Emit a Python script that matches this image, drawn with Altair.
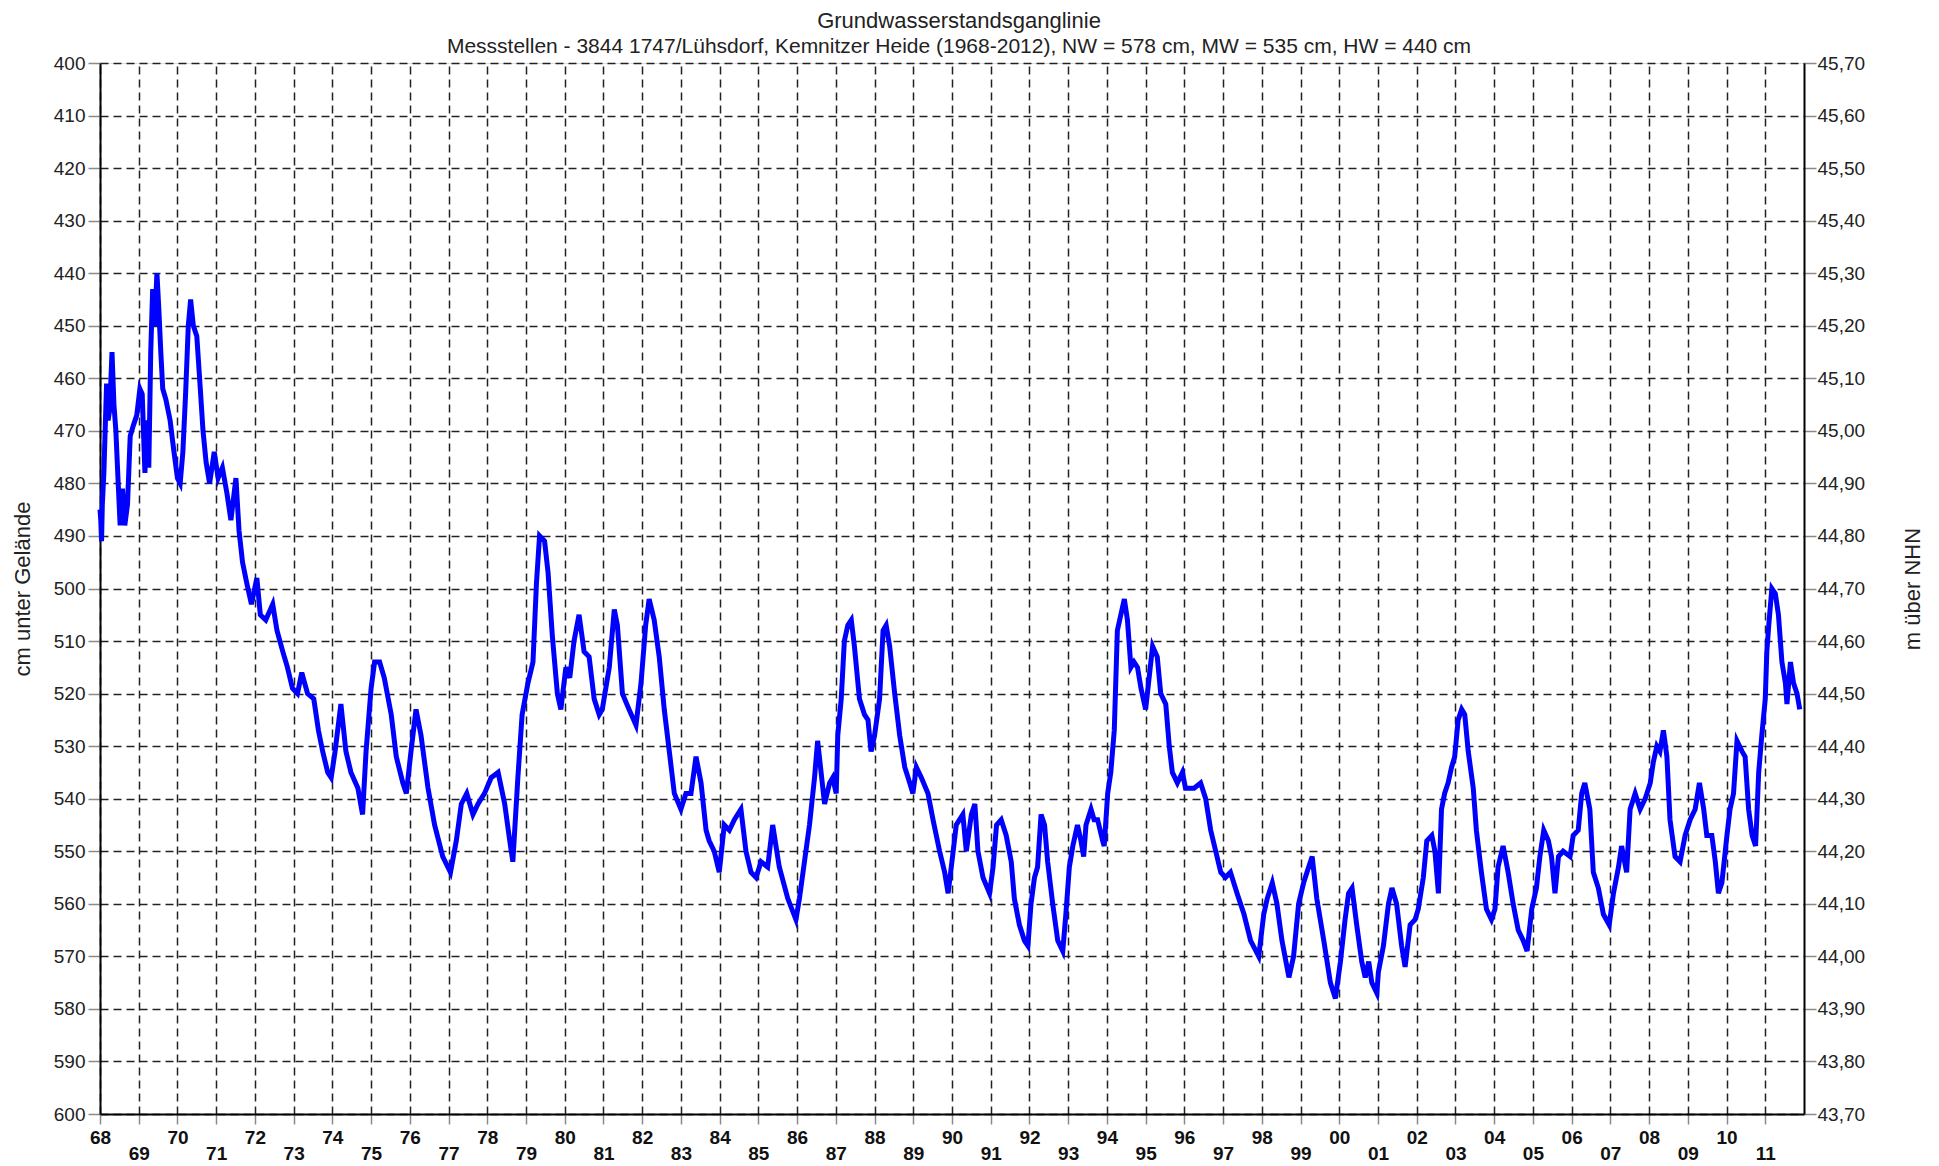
import altair as alt
import pandas as pd

TITLE = "Grundwasserstandsganglinie"
SUBTITLE = ("Messstellen - 3844 1747/Lühsdorf, Kemnitzer Heide (1968-2012), "
            "NW = 578 cm, MW = 535 cm, HW = 440 cm")
LEFT_TITLE = "cm unter  Gelände"
RIGHT_TITLE = "m über  NHN"
YEAR_TICKS = list(range(1968, 2012))
CM_TICKS = list(range(400, 601, 10))

# 1968 - 1979
years_a = [1968.00, 1968.02, 1968.04, 1968.06, 1968.10, 1968.17, 1968.21, 1968.25, 1968.31, 1968.36,
           1968.41, 1968.47, 1968.52, 1968.58, 1968.64, 1968.71, 1968.78, 1968.86, 1968.95, 1969.03,
           1969.09, 1969.16, 1969.21, 1969.26, 1969.31, 1969.36, 1969.41, 1969.47, 1969.52, 1969.57,
           1969.62, 1969.70, 1969.81, 1969.91, 1970.00, 1970.07, 1970.14, 1970.21, 1970.28, 1970.34,
           1970.41, 1970.50, 1970.59, 1970.66, 1970.74, 1970.83, 1970.95, 1971.05, 1971.16, 1971.28,
           1971.38, 1971.51, 1971.59, 1971.68, 1971.79, 1971.91, 1972.05, 1972.14, 1972.28, 1972.46,
           1972.57, 1972.72, 1972.84, 1972.97, 1973.10, 1973.21, 1973.36, 1973.52, 1973.64, 1973.75,
           1973.88, 1973.97, 1974.07, 1974.22, 1974.35, 1974.48, 1974.66, 1974.78, 1974.87, 1975.00,
           1975.09, 1975.22, 1975.34, 1975.52, 1975.65, 1975.82, 1975.91, 1976.03, 1976.16, 1976.29,
           1976.47, 1976.64, 1976.85, 1977.05, 1977.20, 1977.33, 1977.47, 1977.63, 1977.76, 1977.93,
           1978.10, 1978.28, 1978.45, 1978.58, 1978.66, 1978.79, 1978.90, 1979.05, 1979.18, 1979.27,
           1979.35, 1979.48, 1979.57]
levels_a = [485, 487, 491, 484, 478, 461, 468, 466, 455, 465,
            470, 480, 488, 481, 488, 484, 471, 469, 467, 462,
            463, 478, 468, 477, 455, 443, 450, 440, 447, 455,
            462, 464, 468, 474, 479, 480, 474, 463, 450, 445,
            450, 452, 462, 470, 476, 480, 474, 479, 477, 482,
            487, 479, 489, 495, 499, 503, 498, 505, 506, 503,
            508, 512, 515, 519, 520, 516, 520, 521, 527, 531,
            535, 536, 531, 522, 531, 535, 538, 543, 531, 519,
            514, 514, 517, 524, 532, 537, 539, 531, 523, 528,
            538, 545, 551, 554, 548, 541, 539, 543, 541, 539,
            536, 535, 541, 548, 552, 536, 524, 518, 514, 499,
            490, 491, 497]

# 1979 - 1991
years_b = [1979.68, 1979.81, 1979.90, 1980.03, 1980.13, 1980.24, 1980.37, 1980.50, 1980.63, 1980.76,
           1980.89, 1980.97, 1981.15, 1981.28, 1981.36, 1981.49, 1981.66, 1981.84, 1981.97, 1982.09,
           1982.18, 1982.31, 1982.44, 1982.57, 1982.70, 1982.83, 1983.00, 1983.13, 1983.26, 1983.39,
           1983.52, 1983.65, 1983.73, 1983.86, 1983.99, 1984.12, 1984.25, 1984.38, 1984.55, 1984.68,
           1984.81, 1984.94, 1985.07, 1985.24, 1985.37, 1985.54, 1985.76, 1985.97, 1986.06, 1986.19,
           1986.32, 1986.45, 1986.53, 1986.62, 1986.71, 1986.84, 1986.92, 1987.01, 1987.05, 1987.14,
           1987.22, 1987.31, 1987.40, 1987.48, 1987.61, 1987.74, 1987.83, 1987.91, 1988.00, 1988.13,
           1988.22, 1988.30, 1988.39, 1988.52, 1988.65, 1988.78, 1988.91, 1988.99, 1989.08, 1989.21,
           1989.38, 1989.51, 1989.68, 1989.81, 1989.90, 1990.03, 1990.11, 1990.28, 1990.37, 1990.50,
           1990.59, 1990.67, 1990.80, 1990.97, 1991.06, 1991.15]
levels_b = [509, 520, 523, 515, 517, 510, 505, 512, 513, 521,
            524, 523, 515, 504, 507, 520, 523, 526, 518, 507,
            502, 506, 513, 523, 531, 539, 542, 539, 539, 532,
            537, 546, 548, 550, 554, 545, 546, 544, 542, 550,
            554, 555, 552, 553, 545, 553, 559, 563, 559, 552,
            545, 536, 529, 535, 541, 537, 536, 539, 528, 521,
            510, 507, 506, 511, 521, 524, 525, 531, 528, 521,
            508, 507, 511, 520, 528, 534, 537, 539, 534, 536,
            539, 544, 550, 554, 558, 550, 545, 543, 550, 543,
            541, 550, 555, 558, 553, 545]

# 1991 - 2002
years_c = [1991.27, 1991.40, 1991.53, 1991.61, 1991.74, 1991.87, 1991.96, 1992.04, 1992.13, 1992.21,
           1992.30, 1992.39, 1992.47, 1992.60, 1992.73, 1992.86, 1992.94, 1993.03, 1993.12, 1993.24,
           1993.33, 1993.40, 1993.46, 1993.59, 1993.67, 1993.76, 1993.89, 1993.93, 1994.02, 1994.10,
           1994.19, 1994.27, 1994.36, 1994.45, 1994.53, 1994.62, 1994.70, 1994.79, 1994.88, 1995.00,
           1995.09, 1995.18, 1995.30, 1995.39, 1995.52, 1995.61, 1995.69, 1995.82, 1995.95, 1996.03,
           1996.25, 1996.42, 1996.55, 1996.68, 1996.81, 1996.94, 1997.06, 1997.19, 1997.36, 1997.54,
           1997.71, 1997.92, 1998.05, 1998.14, 1998.27, 1998.39, 1998.52, 1998.70, 1998.82, 1998.95,
           1999.08, 1999.21, 1999.30, 1999.42, 1999.60, 1999.77, 1999.90, 2000.03, 2000.15, 2000.24,
           2000.33, 2000.45, 2000.58, 2000.67, 2000.76, 2000.84, 2000.97, 2001.01, 2001.14, 2001.27,
           2001.36, 2001.48, 2001.61, 2001.70, 2001.83, 2001.96, 2002.04, 2002.17, 2002.26, 2002.39,
           2002.47, 2002.56]
levels_c = [544, 547, 552, 559, 564, 567, 568, 560, 555, 553,
            543, 545, 552, 560, 567, 569, 562, 553, 549, 545,
            548, 551, 545, 542, 544, 544, 548, 549, 539, 535,
            527, 508, 505, 502, 506, 515, 514, 515, 519, 523,
            517, 511, 513, 520, 522, 530, 535, 537, 535, 538,
            538, 537, 540, 546, 550, 554, 555, 554, 558, 562,
            567, 570, 562, 559, 556, 560, 567, 574, 570, 560,
            556, 553, 551, 559, 567, 575, 578, 571, 563, 558,
            557, 564, 571, 574, 571, 575, 577, 573, 568, 560,
            557, 560, 568, 572, 564, 563, 561, 555, 548, 547,
            550, 558]

# 2002 - 2011
years_d = [2002.64, 2002.72, 2002.81, 2002.90, 2002.98, 2003.07, 2003.16, 2003.24, 2003.33, 2003.46,
           2003.54, 2003.67, 2003.80, 2003.93, 2004.02, 2004.10, 2004.23, 2004.36, 2004.49, 2004.62,
           2004.75, 2004.85, 2004.97, 2005.09, 2005.18, 2005.28, 2005.40, 2005.48, 2005.57, 2005.66,
           2005.78, 2005.96, 2006.04, 2006.17, 2006.26, 2006.34, 2006.47, 2006.56, 2006.69, 2006.82,
           2006.97, 2007.08, 2007.21, 2007.29, 2007.42, 2007.51, 2007.64, 2007.77, 2007.90, 2008.03,
           2008.11, 2008.20, 2008.28, 2008.37, 2008.46, 2008.54, 2008.67, 2008.80, 2008.93, 2009.06,
           2009.19, 2009.30, 2009.41, 2009.49, 2009.62, 2009.71, 2009.79, 2009.88, 2010.01, 2010.09,
           2010.18, 2010.27, 2010.40, 2010.48, 2010.57, 2010.66, 2010.75, 2010.83, 2010.91, 2011.00,
           2011.04, 2011.09, 2011.17, 2011.26, 2011.34, 2011.43, 2011.52, 2011.56, 2011.65, 2011.73,
           2011.82, 2011.89]
levels_d = [542, 539, 537, 534, 532, 525, 523, 524, 531, 538,
            546, 554, 561, 563, 561, 553, 549, 554, 560, 565,
            567, 569, 561, 557, 551, 546, 548, 551, 558, 551,
            550, 551, 547, 546, 539, 537, 542, 554, 557, 562,
            564, 558, 553, 549, 554, 542, 539, 542, 540, 537,
            533, 530, 531, 527, 532, 544, 551, 552, 547, 544,
            542, 537, 542, 547, 547, 552, 558, 556, 547, 542,
            539, 529, 531, 532, 542, 547, 549, 535, 528, 521,
            512, 507, 500, 501, 505, 514, 518, 522, 514, 518,
            520, 523]

years = years_a + years_b + years_c + years_d
levels = levels_a + levels_b + levels_c + levels_d
df = pd.DataFrame({"jahr": years, "stand": levels})

FONT = "Liberation Sans"
GRID = dict(grid=True, gridDash=[8, 5], gridColor="#222222", gridWidth=1.5)

x_scale = alt.Scale(domain=[1968, 2012], nice=False, zero=False)
y_scale = alt.Scale(domain=[400, 600], reverse=True, nice=False, zero=False)

x_enc = alt.X(
    "jahr:Q", scale=x_scale, title=None,
    axis=alt.Axis(
        values=YEAR_TICKS,
        labelExpr="substring(toString(datum.value), 2, 4)",
        labelPadding={"condition": {"test": "datum.value % 2 == 0", "value": 4}, "value": 20},
        labelFlush=False, labelOverlap=False,
        labelFont=FONT, labelFontSize=19, labelFontWeight="bold", labelColor="#111111",
        tickSize=10, tickColor="#8a8a8a", tickWidth=1.5,
        domainColor="black", domainWidth=2, **GRID,
    ),
)

main = alt.Chart(df).mark_line(color="#0000ff", strokeWidth=5).encode(
    x=x_enc,
    y=alt.Y(
        "stand:Q", scale=y_scale,
        axis=alt.Axis(
            orient="left", values=CM_TICKS, labelFlush=False, labelOverlap=False,
            labelFont=FONT, labelFontSize=19, labelColor="#222222", labelPadding=3,
            tickSize=12, tickColor="#8a8a8a", tickWidth=1.5,
            domainColor="black", domainWidth=2, **GRID,
            title=LEFT_TITLE, titleFont=FONT, titleFontSize=22, titleFontWeight="normal",
            titleColor="#222222", titlePadding=19,
        ),
    ),
)

right = alt.Chart(df).mark_line(opacity=0).encode(
    x=x_enc,
    y=alt.Y(
        "stand:Q", scale=y_scale,
        axis=alt.Axis(
            orient="right", values=CM_TICKS, labelFlush=False, labelOverlap=False,
            labelExpr="replace(format(45.7 - (datum.value - 400) / 100, '.2f'), '.', ',')",
            labelFont=FONT, labelFontSize=19, labelColor="#222222", labelPadding=1,
            tickSize=12, tickColor="#8a8a8a", tickWidth=1.5,
            domainColor="black", domainWidth=2, grid=False,
            title=RIGHT_TITLE, titleFont=FONT, titleFontSize=22, titleFontWeight="normal",
            titleColor="#222222", titleAngle=270, titlePadding=60,
        ),
    ),
)

chart = (
    alt.layer(main, right)
    .resolve_axis(y="independent")
    .properties(
        width=1704, height=1051,
        title=alt.TitleParams(
            text=TITLE, subtitle=SUBTITLE, anchor="middle", dx=7, dy=4.5,
            font=FONT, fontSize=22, fontWeight="normal", color="#222222",
            subtitleFont=FONT, subtitleFontSize=21, subtitleColor="#222222",
            subtitlePadding=2.5, offset=1,
        ),
        padding={"left": 92, "top": 55, "right": 125, "bottom": 50},
        autosize=alt.AutoSizeParams(type="none"),
    )
    .configure_view(stroke="black", strokeWidth=2)
    .configure(background="white")
)

chart.save("out.html", embed_options={"renderer": "svg", "actions": False})
